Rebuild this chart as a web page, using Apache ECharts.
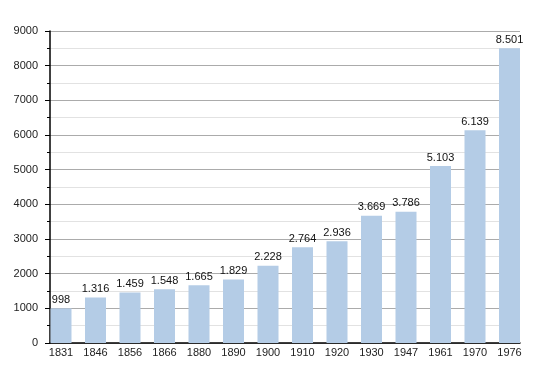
<!DOCTYPE html>
<html><head><meta charset="utf-8">
<script src="https://cdn.jsdelivr.net/npm/echarts@6/dist/echarts.min.js"></script>
<style>html,body{margin:0;padding:0;background:#fff}#c{width:550px;height:373px}</style>
</head><body><div id="c"></div>
<script>
const years = ['1831','1846','1856','1866','1880','1890','1900','1910','1920','1930','1947','1961','1970','1976'];
const population = [998,1316,1459,1548,1665,1829,2228,2764,2936,3669,3786,5103,6139,8501];
const yMin = 0, yMax = 9000, yStep = 1000;

function fmt(v){ return String(v).replace(/\B(?=(\d{3})+(?!\d))/g,'.'); }

const chart = echarts.init(document.getElementById('c'), null, {renderer:'canvas'});
const font = 'Liberation Sans, Arial, sans-serif';
chart.setOption({
  animation:false,
  backgroundColor:'#fff',
  grid:[
    {left:50, right:30, top:31, bottom:30, containLabel:false},
    {left:43.75, right:23.25, top:31, bottom:30, containLabel:false}
  ],
  xAxis:[
    {gridIndex:0, type:'value', min:0, max:1, show:true,
     axisLine:{show:true, lineStyle:{color:'#000', width:1.5}},
     axisTick:{show:false}, axisLabel:{show:false}, splitLine:{show:false}},
    {gridIndex:1, type:'category', data:years, boundaryGap:true,
     axisLine:{show:false}, axisTick:{show:false},
     axisLabel:{color:'#222', fontSize:11, fontFamily:font, margin:4}}
  ],
  yAxis:[
    {gridIndex:0, type:'value', min:yMin, max:yMax, interval:yStep,
     axisLine:{show:true, lineStyle:{color:'#000', width:1.5}},
     axisTick:{show:true, length:5, lineStyle:{color:'#000'}},
     minorTick:{show:true, splitNumber:2, length:3, lineStyle:{color:'#000'}},
     axisLabel:{color:'#222', fontSize:11, fontFamily:font, margin:12, formatter:v=>String(v)},
     splitLine:{show:true, lineStyle:{color:'#ababab', width:1}},
     minorSplitLine:{show:true, lineStyle:{color:'#e2e2e2', width:1}}},
    {gridIndex:1, type:'value', min:yMin, max:yMax, show:false, splitLine:{show:false}}
  ],
  series:[{
    type:'bar', xAxisIndex:1, yAxisIndex:1, data:population, barWidth:21,
    itemStyle:{color:'#b4cce6'},
    label:{show:true, position:'top', distance:3, color:'#111', fontSize:11, fontFamily:font,
      formatter:p=>fmt(p.value)},
    z:1
  }]
});
</script></body></html>
